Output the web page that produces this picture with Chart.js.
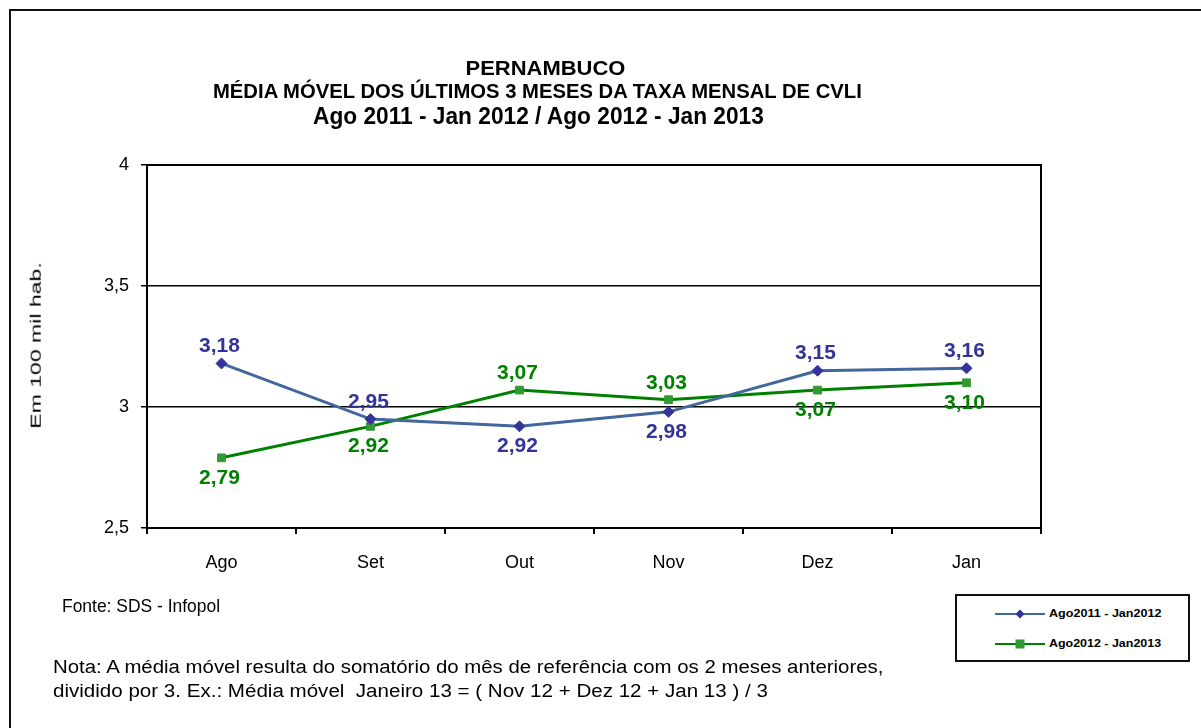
<!DOCTYPE html>
<html>
<head>
<meta charset="utf-8">
<script src="https://cdn.jsdelivr.net/npm/chart.js@4.4.0/dist/chart.umd.min.js"></script>
<style>
  html, body { margin: 0; padding: 0; background: #fff; }
  body { width: 1201px; height: 728px; position: relative; overflow: hidden; font-family: "Liberation Sans", Arial, sans-serif; }
  #frame { position: absolute; left: 9px; top: 9px; width: 1400px; height: 900px; border-left: 2px solid #111; border-top: 2px solid #111; }
  #c { position: absolute; left: 0; top: 0; }
  .t { position: absolute; white-space: nowrap; color: #000; line-height: 1; }
  .b { font-weight: bold; }
  #legend { position: absolute; left: 955px; top: 594px; width: 231px; height: 64px; border: 2px solid #111; background: #fff; }
  .lg { position: absolute; left: 0; width: 231px; height: 20px; }
  .lg canvas { position: absolute; left: 36px; top: 0; }
  .lg span { position: absolute; left: 92px; top: 4px; font-size: 11px; font-weight: bold; line-height: 1; white-space: nowrap; }
</style>
</head>
<body>
<div id="frame"></div>
<canvas id="c" width="1201" height="728"></canvas>

<div class="t b fit" data-cx="545" data-w="160" style="top:56.6px;font-size:21px;">PERNAMBUCO</div>
<div class="t b fit" data-cx="537" data-w="649" style="top:79.8px;font-size:21px;">MÉDIA MÓVEL DOS ÚLTIMOS 3 MESES DA TAXA MENSAL DE CVLI</div>
<div class="t b fit" data-cx="538" data-w="451" style="top:105px;font-size:23px;">Ago 2011 - Jan 2012 / Ago 2012 - Jan 2013</div>

<div class="t" id="ytitle" style="font-size:15px;">Em 100 mil hab.</div>

<div class="t fit" data-x="62" data-w="158" style="top:596.5px;font-size:18px;">Fonte: SDS - Infopol</div>
<div class="t fit" data-x="53" data-w="830" style="top:657.5px;font-size:18px;">Nota: A média móvel resulta do somatório do mês de referência com os 2 meses anteriores,</div>
<div class="t fit" data-x="53" data-w="715" style="top:681.5px;font-size:18px;">dividido por 3. Ex.: Média móvel&nbsp; Janeiro 13 = ( Nov 12 + Dez 12 + Jan 13 ) / 3</div>

<div id="legend">
  <div class="lg" style="top:8px;"><canvas id="lg1" width="54" height="20"></canvas><span id="ln1"></span></div>
  <div class="lg" style="top:38px;"><canvas id="lg2" width="54" height="20"></canvas><span id="ln2"></span></div>
</div>

<script>
// ---- data ----
const categories = ['Ago', 'Set', 'Out', 'Nov', 'Dez', 'Jan'];
const seriesNames = ['Ago2011 - Jan2012', 'Ago2012 - Jan2013'];
const series2011 = [3.18, 2.95, 2.92, 2.98, 3.15, 3.16];
const series2012 = [2.79, 2.92, 3.07, 3.03, 3.07, 3.10];
const yTickValues = [2.5, 3, 3.5, 4];
const yTickLabels = ['2,5', '3', '3,5', '4'];
// label placement (above = -1 / below = 1 the point)
const labelSide2011 = [-1, -1, 1, 1, -1, -1];
const labelSide2012 = [1, 1, -1, -1, 1, 1];

const blueLine = '#41679C', blueMark = '#333399', blueText = '#333399';
const greenLine = '#008000', greenMark = '#339933', greenText = '#008000';

document.getElementById('ln1').textContent = seriesNames[0];
document.getElementById('ln2').textContent = seriesNames[1];

// fit text widths to the reference
document.querySelectorAll('.fit').forEach(el => {
  const w = el.offsetWidth, target = +el.dataset.w, s = target / w;
  if (el.dataset.cx) {
    el.style.left = (+el.dataset.cx - w / 2) + 'px';
    el.style.transformOrigin = '50% 50%';
  } else {
    el.style.left = el.dataset.x + 'px';
    el.style.transformOrigin = '0 50%';
  }
  el.style.transform = 'scaleX(' + s + ')';
});
(function () {
  const el = document.getElementById('ytitle');
  const w = el.offsetWidth, h = el.offsetHeight, s = 166 / w;
  el.style.left = (35 - w / 2) + 'px';
  el.style.top = (345 - h / 2) + 'px';
  el.style.transformOrigin = '50% 50%';
  el.style.transform = 'rotate(-90deg) scaleX(' + s + ')';
})();
document.querySelectorAll('.lg span').forEach(el => {
  const s = 112 / el.offsetWidth;
  el.style.transformOrigin = '0 50%';
  el.style.transform = 'scaleX(' + s + ')';
});

function drawLegendMark(id, lineColor, markColor, style) {
  const ctx = document.getElementById(id).getContext('2d');
  ctx.strokeStyle = lineColor; ctx.lineWidth = 2;
  ctx.beginPath(); ctx.moveTo(2, 10); ctx.lineTo(52, 10); ctx.stroke();
  ctx.fillStyle = markColor;
  if (style === 'diamond') {
    ctx.beginPath(); ctx.moveTo(27, 5.5); ctx.lineTo(31.5, 10); ctx.lineTo(27, 14.5); ctx.lineTo(22.5, 10); ctx.closePath(); ctx.fill();
  } else {
    ctx.fillRect(22.5, 5.5, 9, 9);
  }
}
drawLegendMark('lg1', blueLine, blueMark, 'diamond');
drawLegendMark('lg2', greenLine, greenMark, 'square');

const sides = [labelSide2011, labelSide2012];
const labelColors = [blueText, greenText];

const boxPlugin = {
  id: 'box',
  afterDraw(chart) {
    const a = chart.chartArea, ctx = chart.ctx;
    ctx.save();
    ctx.strokeStyle = '#000';
    ctx.lineWidth = 2;
    ctx.strokeRect(a.left, a.top, a.right - a.left, a.bottom - a.top);
    ctx.restore();
  }
};

const labelPlugin = {
  id: 'vlabels',
  afterDatasetsDraw(chart) {
    const ctx = chart.ctx;
    ctx.save();
    ctx.font = 'bold 21px "Liberation Sans", Arial, sans-serif';
    ctx.textAlign = 'center';
    ctx.textBaseline = 'middle';
    chart.data.datasets.forEach((ds, i) => {
      const meta = chart.getDatasetMeta(i);
      meta.data.forEach((pt, j) => {
        ctx.fillStyle = labelColors[i];
        const txt = ds.data[j].toFixed(2).replace('.', ',');
        const off = sides[i][j] < 0 ? -17 : 20;
        ctx.fillText(txt, pt.x - 2, pt.y + off);
      });
    });
    ctx.restore();
  }
};

new Chart(document.getElementById('c'), {
  type: 'line',
  data: {
    labels: categories,
    datasets: [
      {
        label: seriesNames[0], data: series2011,
        borderColor: blueLine, borderWidth: 3,
        pointStyle: 'rectRot', pointRadius: 5.5, pointBackgroundColor: blueMark, pointBorderColor: blueMark, pointBorderWidth: 1,
        tension: 0
      },
      {
        label: seriesNames[1], data: series2012,
        borderColor: greenLine, borderWidth: 3,
        pointStyle: 'rect', pointRadius: 5.5, pointBackgroundColor: greenMark, pointBorderColor: greenMark, pointBorderWidth: 1,
        tension: 0
      }
    ]
  },
  options: {
    responsive: false,
    animation: false,
    events: [],
    layout: { padding: { top: 165, right: 160, left: 0, bottom: 0 } },
    plugins: { legend: { display: false }, title: { display: false }, tooltip: { enabled: false } },
    scales: {
      x: {
        type: 'category',
        offset: true,
        grid: { offset: true, drawOnChartArea: false, drawTicks: true, tickLength: 6, color: '#000', lineWidth: 2 },
        border: { display: true, color: '#000', width: 2 },
        ticks: { color: '#000', font: { size: 18, family: '"Liberation Sans", Arial, sans-serif' }, padding: 18, maxRotation: 0 },
        afterFit(scale) { scale.height = 200; }
      },
      y: {
        min: 2.5, max: 4,
        afterBuildTicks(scale) { scale.ticks = yTickValues.map(v => ({ value: v })); },
        grid: { color: '#000', lineWidth: 1.5, drawTicks: true, tickLength: 6 },
        border: { display: true, color: '#000', width: 2 },
        ticks: {
          color: '#000', padding: 12,
          font: { size: 18, family: '"Liberation Sans", Arial, sans-serif' },
          callback: (v) => { const k = yTickValues.indexOf(v); return k >= 0 ? yTickLabels[k] : ''; }
        },
        afterFit(scale) { scale.width = 147; }
      }
    }
  },
  plugins: [boxPlugin, labelPlugin]
});
</script>
</body>
</html>
